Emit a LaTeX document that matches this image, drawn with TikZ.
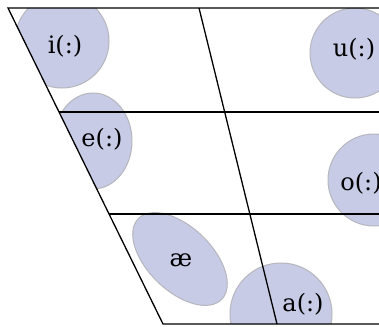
\documentclass[tikz,border=0pt]{standalone}
\usepackage{fontspec}
\setmainfont{DejaVu Serif}
\definecolor{blobfill}{RGB}{200,203,230}
\definecolor{blobline}{RGB}{182,182,190}
\begin{document}
\begin{tikzpicture}[x=1pt,y=-1pt,
  blob/.style={fill=blobfill,draw=blobline,line width=1pt},
  frame/.style={draw=black,line width=1.3pt},
  vowel/.style={inner sep=0pt,font=\fontsize{24}{24}\selectfont}]
\useasboundingbox (0,0) rectangle (379,326);
\fill[white] (0,0) rectangle (379,326);
\begin{scope}
  \clip (8,8) -- (400,8) -- (400,324) -- (163,324) -- cycle;
  \path[blob] (62,41) circle [radius=47pt];
  \path[blob] (93,141) ellipse [x radius=39pt, y radius=48pt];
  \path[blob] (355,53) circle [radius=45pt];
  \path[blob] (374,180) circle [radius=46pt];
  \path[blob, rotate around={-44:(180,259)}] (180,259) ellipse [x radius=58pt, y radius=32pt];
  \path[blob] (281,314) circle [radius=51pt];
\end{scope}
% frame
\coordinate (tl) at (8,8);
\coordinate (tr) at (390,8);
\coordinate (ml) at (59,112);
\coordinate (mr) at (390,112);
\coordinate (ll) at (109,214);
\coordinate (lr) at (390,214);
\coordinate (bl) at (163,324);
\coordinate (br) at (390,324);
\coordinate (ct) at (199,8);
\coordinate (cb) at (277,324);
\draw[frame] (tr) -- (tl) -- (bl) -- (br);
\draw[frame] (ml) -- (mr);
\draw[frame] (ll) -- (lr);
\draw[frame] (ct) -- (cb);
% labels
\node[vowel] (i) at (65,46) {i(:)};
\node[vowel] (e) at (102,139) {e(:)};
\node[vowel] (u) at (354,49) {u(:)};
\node[vowel] (o) at (361,183) {o(:)};
\node[vowel] (ae) at (181,260) {æ};
\node[vowel] (a) at (303,304) {a(:)};
\end{tikzpicture}
\end{document}
